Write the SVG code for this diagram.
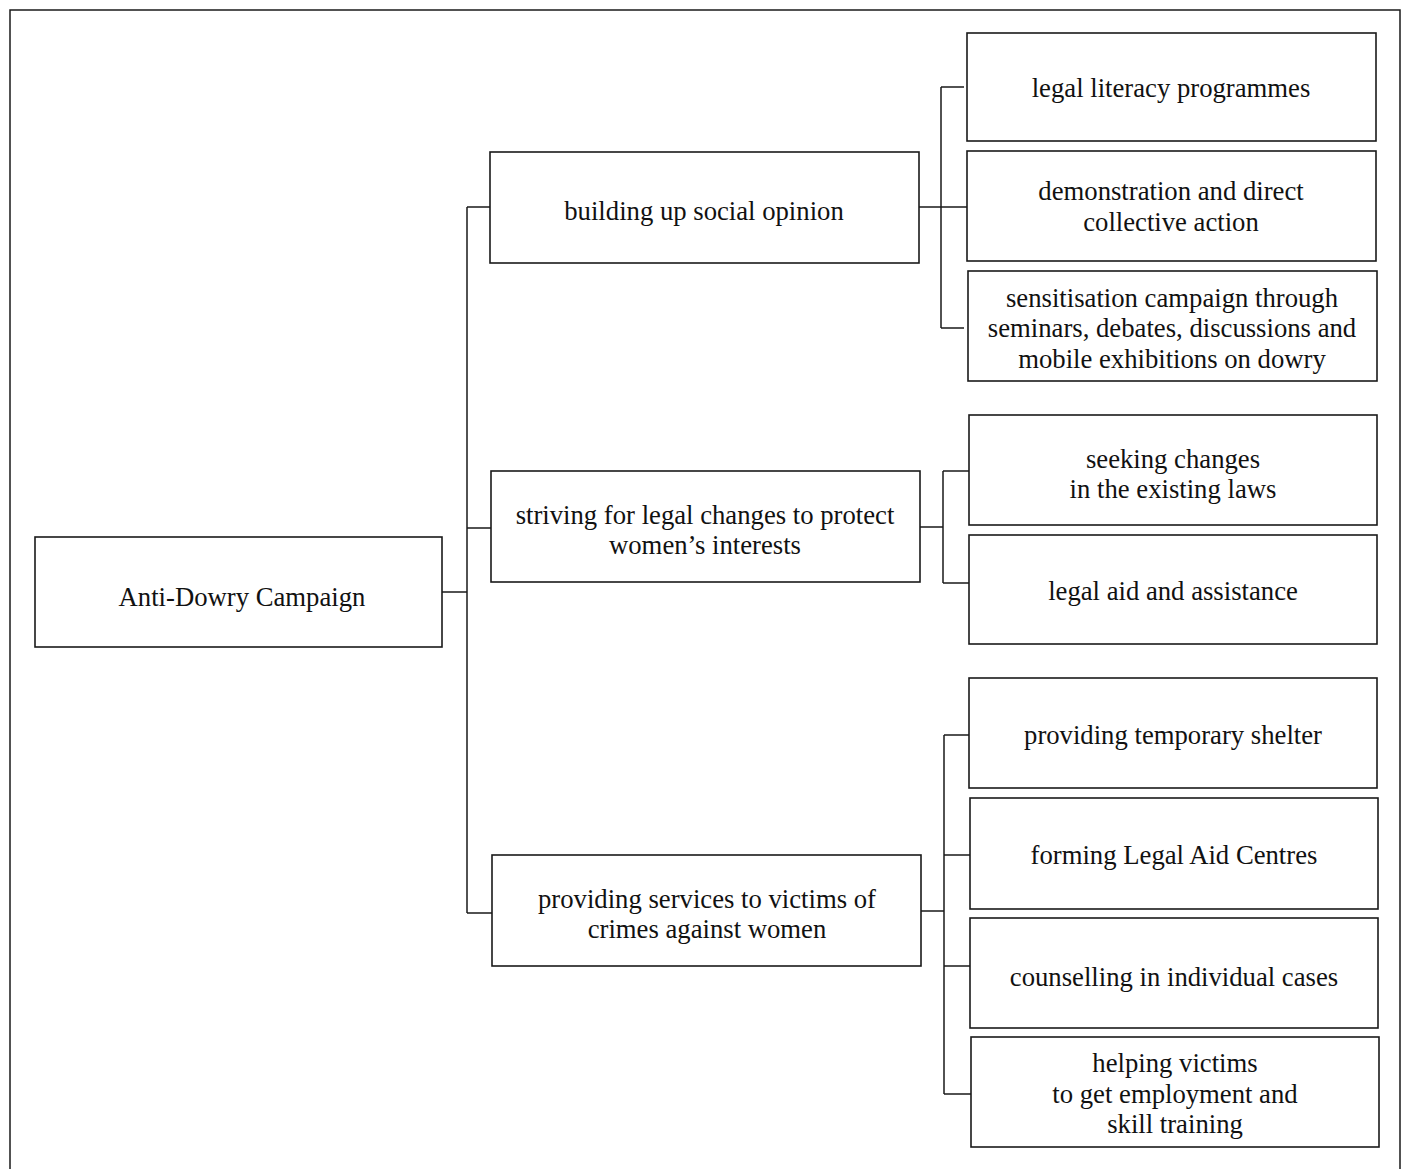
<svg xmlns="http://www.w3.org/2000/svg" width="1403" height="1169" viewBox="0 0 1403 1169">
<style>
.box{fill:#fff;stroke:#1a1a1a;stroke-width:1.6}
.ln{fill:none;stroke:#1a1a1a;stroke-width:1.5}
text{font-family:"Liberation Serif","Times New Roman",serif;font-size:26.7px;fill:#111;text-anchor:middle}
</style>
<rect width="1403" height="1169" fill="#fff"/>
<path class="ln" d="M10,1169 V10 H1400 V1169"/>
<g id="connectors">
<path class="ln" d="M442,592 H467 M467,207 V913 M467,207 H490 M467,528 H491 M467,913 H492"/>
<path class="ln" d="M919,207 H967 M941,87 V328 M941,87 H964 M941,328 H964"/>
<path class="ln" d="M920,527 H943 M943,471 V583 M943,471 H969 M943,583 H969"/>
<path class="ln" d="M921,911 H944 M944,735 V1094 M944,735 H969 M944,855 H970 M944,966 H970 M944,1094 H971"/>
</g>
<g id="root"><rect class="box" x="35" y="537" width="407" height="110"/><text x="242" y="606">Anti-Dowry Campaign</text></g>
<g id="social"><rect class="box" x="490" y="152" width="429" height="111"/><text x="704" y="220">building up social opinion</text></g>
<g id="legal"><rect class="box" x="491" y="471" width="429" height="111"/><text x="705" y="524">striving for legal changes to protect</text><text x="705" y="554">women’s interests</text></g>
<g id="services"><rect class="box" x="492" y="855" width="429" height="111"/><text x="707" y="908">providing services to victims of</text><text x="707" y="938">crimes against women</text></g>
<g id="literacy"><rect class="box" x="967" y="33" width="409" height="108"/><text x="1171" y="97">legal literacy programmes</text></g>
<g id="demonstration"><rect class="box" x="967" y="151" width="409" height="110"/><text x="1171" y="200">demonstration and direct</text><text x="1171" y="231">collective action</text></g>
<g id="sensitisation"><rect class="box" x="968" y="271" width="409" height="110"/><text x="1172" y="307">sensitisation campaign through</text><text x="1172" y="337">seminars, debates, discussions and</text><text x="1172" y="368">mobile exhibitions on dowry</text></g>
<g id="seeking"><rect class="box" x="969" y="415" width="408" height="110"/><text x="1173" y="468">seeking changes</text><text x="1173" y="498">in the existing laws</text></g>
<g id="legalaid"><rect class="box" x="969" y="535" width="408" height="109"/><text x="1173" y="600">legal aid and assistance</text></g>
<g id="shelter"><rect class="box" x="969" y="678" width="408" height="110"/><text x="1173" y="744">providing temporary shelter</text></g>
<g id="centres"><rect class="box" x="970" y="798" width="408" height="111"/><text x="1174" y="864">forming Legal Aid Centres</text></g>
<g id="counselling"><rect class="box" x="970" y="918" width="408" height="110"/><text x="1174" y="986">counselling in individual cases</text></g>
<g id="helping"><rect class="box" x="971" y="1037" width="408" height="110"/><text x="1175" y="1072">helping victims</text><text x="1175" y="1103">to get employment and</text><text x="1175" y="1133">skill training</text></g>
</svg>
